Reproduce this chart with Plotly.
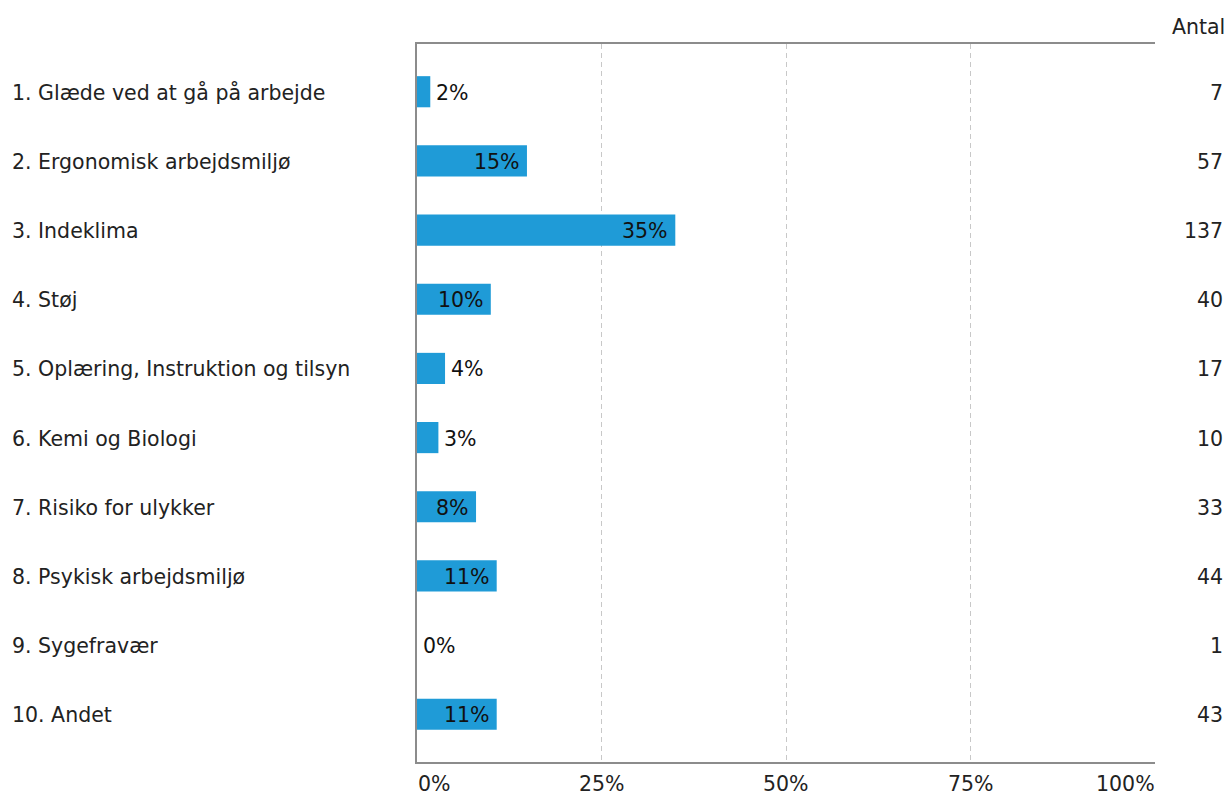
import plotly.graph_objects as go

categories = [
    "1. Glæde ved at gå på arbejde",
    "2. Ergonomisk arbejdsmiljø",
    "3. Indeklima",
    "4. Støj",
    "5. Oplæring, Instruktion og tilsyn",
    "6. Kemi og Biologi",
    "7. Risiko for ulykker",
    "8. Psykisk arbejdsmiljø",
    "9. Sygefravær",
    "10. Andet",
]
percent_values = [1.8, 14.9, 35.0, 10.0, 3.8, 2.9, 8.0, 10.8, 0.0, 10.8]
percent_labels = ["2%", "15%", "35%", "10%", "4%", "3%", "8%", "11%", "0%", "11%"]
counts = [7, 57, 137, 40, 17, 10, 33, 44, 1, 43]
x_ticks = [0, 25, 50, 75, 100]
x_tick_labels = ["0%", "25%", "50%", "75%", "100%"]

FONT = "DejaVu Sans, Verdana, sans-serif"
FS = 20.5
TXT = "#222222"
BAR = "#1f9bd7"
W, H = 1229, 795
ML, MR, MT, MB = 417, 74, 44, 33
PW = W - ML - MR
PH = H - MT - MB

ypos = list(range(len(categories)))

fig = go.Figure()
fig.add_trace(go.Bar(
    x=percent_values, y=ypos, orientation="h",
    marker=dict(color=BAR, line=dict(width=0)),
    width=0.45, hoverinfo="skip",
))

ann = []
for i, (cat, v, lab, c) in enumerate(zip(categories, percent_values, percent_labels, counts)):
    ann.append(dict(x=-(ML - 10) / PW, xref="paper", y=i, yref="y", text=cat,
                    xanchor="left", yanchor="middle", showarrow=False, yshift=-1,
                    font=dict(family=FONT, size=FS, color=TXT)))
    ann.append(dict(x=1 + (1225 - (ML + PW)) / PW, xref="paper", y=i, yref="y", text=str(c),
                    xanchor="right", yanchor="middle", showarrow=False, yshift=-1,
                    font=dict(family=FONT, size=FS, color=TXT)))
    inside = v >= 5
    ann.append(dict(x=v, xref="x", y=i, yref="y", text=lab,
                    xanchor="right" if inside else "left",
                    xshift=-5 if inside else 4, yshift=-1,
                    yanchor="middle", showarrow=False,
                    font=dict(family=FONT, size=FS, color="#111111")))

ann.append(dict(x=1 + (1227 - (ML + PW)) / PW, xref="paper", y=1 + (MT - 27) / PH, yref="paper",
                text="Antal", xanchor="right", yanchor="middle", showarrow=False,
                font=dict(family=FONT, size=FS, color=TXT)))

for t, lab in zip(x_ticks, x_tick_labels):
    xa = "left" if t == x_ticks[0] else ("right" if t == x_ticks[-1] else "center")
    xs = -1 if t == x_ticks[0] else (2 if t == x_ticks[-1] else 0)
    ann.append(dict(x=t, xref="x", y=-(784 - (MT + PH)) / PH, yref="paper", text=lab,
                    xanchor=xa, xshift=xs, yanchor="middle", showarrow=False,
                    font=dict(family=FONT, size=FS, color=TXT)))

fig.update_layout(
    width=W, height=H,
    margin=dict(l=ML, r=MR, t=MT, b=MB, pad=0),
    paper_bgcolor="white", plot_bgcolor="white",
    showlegend=False,
    annotations=ann,
    xaxis=dict(range=[0, 100], tickvals=x_ticks[1:-1], showticklabels=False,
               showgrid=True, gridcolor="#c8c8c8", gridwidth=1, griddash="5px,4px",
               showline=True, mirror=True, linecolor="#8c8c8c", linewidth=1.5,
               zeroline=False, ticks="", fixedrange=True),
    yaxis=dict(range=[len(categories) - 1 + 0.69, -0.69], showticklabels=False,
               showgrid=False, zeroline=False, showline=True, mirror=False,
               linecolor="#8c8c8c", linewidth=1.5, ticks="", fixedrange=True),
)

fig.write_html("out.html")
